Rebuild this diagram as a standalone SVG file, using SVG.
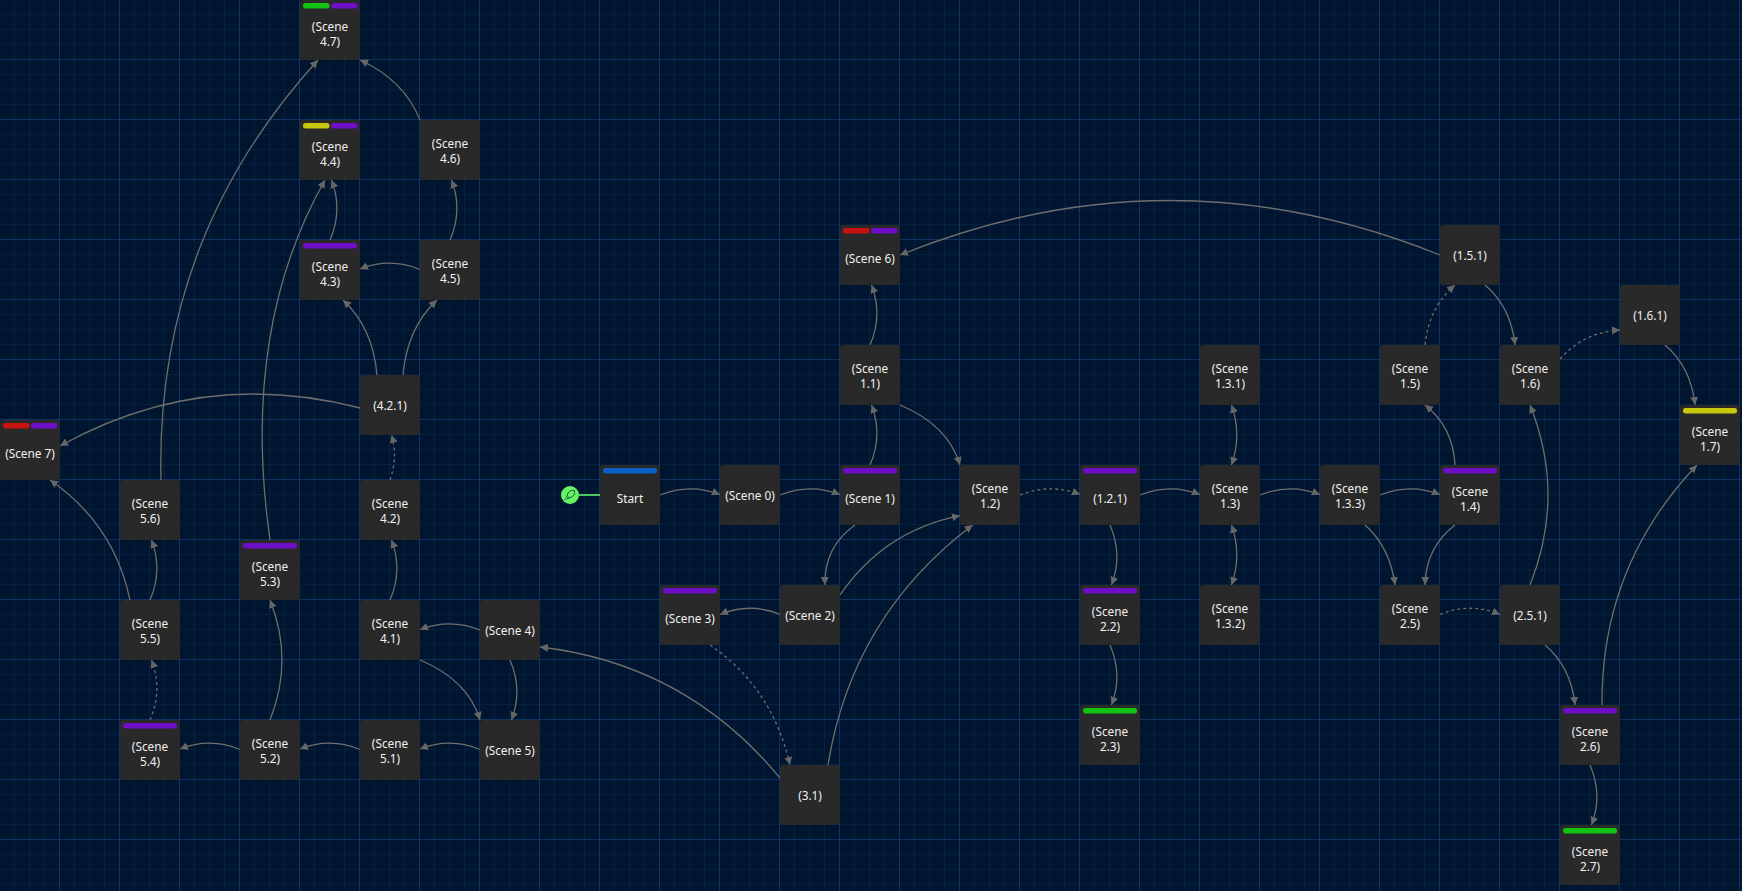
<svg xmlns="http://www.w3.org/2000/svg" width="1742" height="891" viewBox="0 0 1742 891">
<style>
.n{fill:#292929}
.t{font-family:"Noto Sans","Liberation Sans",sans-serif;font-size:11.8px;fill:#f0f0f0;text-anchor:middle}
.e{fill:none;stroke:#6e6e6e;stroke-width:1.3;marker-end:url(#a)}
.s{marker-start:url(#a)}
.d{stroke-dasharray:3 3}
.b{fill:#0a5fc4}.p{fill:#6e0fc7}.r{fill:#c81212}.g{fill:#12c412}.y{fill:#c8c80a}
</style>
<defs>
<marker id="a" markerUnits="userSpaceOnUse" markerWidth="9" markerHeight="9" refX="8" refY="4" orient="auto-start-reverse"><path d="M0 0L8 4L0 8z" fill="#666"/></marker>
<pattern id="grid" width="60" height="60" patternUnits="userSpaceOnUse">
<rect x="14" width="1" height="60" fill="#06203e"/><rect x="29" width="1" height="60" fill="#06203e"/><rect x="44" width="1" height="60" fill="#06203e"/>
<rect y="14" width="60" height="1" fill="#06203e"/><rect y="29" width="60" height="1" fill="#06203e"/><rect y="44" width="60" height="1" fill="#06203e"/>
<rect x="59" width="1" height="60" fill="#11335f"/><rect y="59" width="60" height="1" fill="#11335f"/>
</pattern>
</defs>
<rect width="1742" height="891" fill="#001630"/>
<rect width="1742" height="891" fill="url(#grid)"/>
<g id="connectors">
<path class="e" d="M660 495Q690 483 720 494.5"/>
<path class="e" d="M780 495Q810 483 840 494.5"/>
<path class="e" d="M870 465Q883 435 871.5 405"/>
<path class="e" d="M870 345Q883 315 871.5 285"/>
<path class="e" d="M900 405Q948 425 960 465"/>
<path class="e" d="M855 525Q824 547 825 585"/>
<path class="e" d="M780 614.5Q750 602 720 614.5"/>
<path class="e" d="M840 595Q884 531 960 515.7"/>
<path class="e" d="M828 765Q852 616 972.7 525"/>
<path class="e d" d="M710 645Q772 687 790 765"/>
<path class="e" d="M780 778Q686 664 540 647"/>
<path class="e" d="M480 630Q450 618 420 629.5"/>
<path class="e" d="M510 660Q523 690 511.5 720"/>
<path class="e" d="M420 660Q468 680 480 720"/>
<path class="e" d="M480 749.5Q450 737 420 749"/>
<path class="e" d="M360 749.5Q330 737 300 749"/>
<path class="e" d="M240 749.5Q210 737 180 749"/>
<path class="e" d="M270 720Q294 660 270 600"/>
<path class="e d" d="M150 720Q163 690 151.5 660"/>
<path class="e" d="M150 600Q163 570 151.5 540"/>
<path class="e" d="M130 600Q114 524 50 480"/>
<path class="e" d="M161 480Q155 239 318 60"/>
<path class="e" d="M270 540Q240 330 325 180"/>
<path class="e" d="M330 240Q343 210 331.5 180"/>
<path class="e" d="M450 240Q463 210 451.5 180"/>
<path class="e" d="M420 120Q404 80 360 60"/>
<path class="e" d="M420 269.5Q390 257 360 269"/>
<path class="e" d="M377 375Q373 328 343 300"/>
<path class="e" d="M403 375Q407 328 437 300"/>
<path class="e" d="M360 408Q202 367 60 446"/>
<path class="e d" d="M390 480Q398 457 391.5 435"/>
<path class="e" d="M390 600Q403 570 391.5 540"/>
<path class="e d" d="M1020 495Q1050 483 1080 494.5"/>
<path class="e" d="M1140 495Q1170 483 1200 494.5"/>
<path class="e" d="M1260 495Q1290 483 1320 494.5"/>
<path class="e" d="M1380 495Q1410 483 1440 494.5"/>
<path class="e" d="M1110 525Q1123 555 1111.5 585"/>
<path class="e" d="M1110 645Q1123 675 1111.5 705"/>
<path class="e s" d="M1231.5 525Q1242 555 1231.5 585"/>
<path class="e s" d="M1231.5 465Q1242 435 1231.5 405"/>
<path class="e" d="M1365 525Q1390 547 1395 585"/>
<path class="e" d="M1455 525Q1426 547 1425 585"/>
<path class="e d" d="M1440 614.5Q1470 602 1500 614.5"/>
<path class="e" d="M1530 585Q1566 495 1530 405"/>
<path class="e" d="M1545 645Q1571 667 1575 705"/>
<path class="e" d="M1590 765Q1603 795 1591.5 825"/>
<path class="e" d="M1602 705Q1601 566 1697 465"/>
<path class="e" d="M1455 465Q1453 427 1425 405"/>
<path class="e d" d="M1425 345Q1429 307 1455 285"/>
<path class="e" d="M1485 285Q1511 307 1515 345"/>
<path class="e d" d="M1560 359Q1584 332 1620 330"/>
<path class="e" d="M1665 345Q1691 367 1695 405"/>
<path class="e" d="M1440 255Q1170 146 900 255"/>
</g>
<g id="entry">
<line x1="579" y1="495" x2="600" y2="495" stroke="#4cc45f" stroke-width="2"/>
<circle cx="570" cy="495" r="9" fill="#66f266"/>
<g fill="none" stroke="#1f5a38" stroke-width="1"><path d="M566.5 497.5L568 493C569.5 491 572 490 574.5 490.5C575 493 574 495.5 572 497L567.5 498.5Z"/><path d="M565.5 498.5L564.5 500M569 496.5L566.5 499.5"/></g>
</g>
<g id="start"><rect class="n" x="600" y="465" width="60" height="60" rx="3"/><rect class="b" x="603" y="468" width="54" height="5.5" rx="2.5"/><text class="t" x="630" y="503">Start</text></g>
<g id="scene-0"><rect class="n" x="720" y="465" width="60" height="60" rx="3"/><text class="t" x="750" y="500">(Scene 0)</text></g>
<g id="scene-1"><rect class="n" x="840" y="465" width="60" height="60" rx="3"/><rect class="p" x="843" y="468" width="54" height="5.5" rx="2.5"/><text class="t" x="870" y="503">(Scene 1)</text></g>
<g id="scene-1-1"><rect class="n" x="840" y="345" width="60" height="60" rx="3"/><text class="t" x="870" y="372.5">(Scene</text><text class="t" x="870" y="388">1.1)</text></g>
<g id="scene-6"><rect class="n" x="840" y="225" width="60" height="60" rx="3"/><rect class="r" x="843" y="228" width="26.5" height="5.5" rx="2.5"/><rect class="p" x="871" y="228" width="26.5" height="5.5" rx="2.5"/><text class="t" x="870" y="263">(Scene 6)</text></g>
<g id="scene-2"><rect class="n" x="780" y="585" width="60" height="60" rx="3"/><text class="t" x="810" y="620">(Scene 2)</text></g>
<g id="scene-3"><rect class="n" x="660" y="585" width="60" height="60" rx="3"/><rect class="p" x="663" y="588" width="54" height="5.5" rx="2.5"/><text class="t" x="690" y="623">(Scene 3)</text></g>
<g id="n-3-1"><rect class="n" x="780" y="765" width="60" height="60" rx="3"/><text class="t" x="810" y="800">(3.1)</text></g>
<g id="scene-4"><rect class="n" x="480" y="600" width="60" height="60" rx="3"/><text class="t" x="510" y="635">(Scene 4)</text></g>
<g id="scene-5"><rect class="n" x="480" y="720" width="60" height="60" rx="3"/><text class="t" x="510" y="755">(Scene 5)</text></g>
<g id="scene-4-1"><rect class="n" x="360" y="600" width="60" height="60" rx="3"/><text class="t" x="390" y="627.5">(Scene</text><text class="t" x="390" y="643">4.1)</text></g>
<g id="scene-5-1"><rect class="n" x="360" y="720" width="60" height="60" rx="3"/><text class="t" x="390" y="747.5">(Scene</text><text class="t" x="390" y="763">5.1)</text></g>
<g id="scene-5-2"><rect class="n" x="240" y="720" width="60" height="60" rx="3"/><text class="t" x="270" y="747.5">(Scene</text><text class="t" x="270" y="763">5.2)</text></g>
<g id="scene-5-3"><rect class="n" x="240" y="540" width="60" height="60" rx="3"/><rect class="p" x="243" y="543" width="54" height="5.5" rx="2.5"/><text class="t" x="270" y="570.5">(Scene</text><text class="t" x="270" y="586">5.3)</text></g>
<g id="scene-5-4"><rect class="n" x="120" y="720" width="60" height="60" rx="3"/><rect class="p" x="123" y="723" width="54" height="5.5" rx="2.5"/><text class="t" x="150" y="750.5">(Scene</text><text class="t" x="150" y="766">5.4)</text></g>
<g id="scene-5-5"><rect class="n" x="120" y="600" width="60" height="60" rx="3"/><text class="t" x="150" y="627.5">(Scene</text><text class="t" x="150" y="643">5.5)</text></g>
<g id="scene-5-6"><rect class="n" x="120" y="480" width="60" height="60" rx="3"/><text class="t" x="150" y="507.5">(Scene</text><text class="t" x="150" y="523">5.6)</text></g>
<g id="scene-7"><rect class="n" x="0" y="420" width="60" height="60" rx="3"/><rect class="r" x="3" y="423" width="26.5" height="5.5" rx="2.5"/><rect class="p" x="31" y="423" width="26.5" height="5.5" rx="2.5"/><text class="t" x="30" y="458">(Scene 7)</text></g>
<g id="scene-4-2"><rect class="n" x="360" y="480" width="60" height="60" rx="3"/><text class="t" x="390" y="507.5">(Scene</text><text class="t" x="390" y="523">4.2)</text></g>
<g id="n-4-2-1"><rect class="n" x="360" y="375" width="60" height="60" rx="3"/><text class="t" x="390" y="410">(4.2.1)</text></g>
<g id="scene-4-3"><rect class="n" x="300" y="240" width="60" height="60" rx="3"/><rect class="p" x="303" y="243" width="54" height="5.5" rx="2.5"/><text class="t" x="330" y="270.5">(Scene</text><text class="t" x="330" y="286">4.3)</text></g>
<g id="scene-4-5"><rect class="n" x="420" y="240" width="60" height="60" rx="3"/><text class="t" x="450" y="267.5">(Scene</text><text class="t" x="450" y="283">4.5)</text></g>
<g id="scene-4-4"><rect class="n" x="300" y="120" width="60" height="60" rx="3"/><rect class="y" x="303" y="123" width="26.5" height="5.5" rx="2.5"/><rect class="p" x="331" y="123" width="26.5" height="5.5" rx="2.5"/><text class="t" x="330" y="150.5">(Scene</text><text class="t" x="330" y="166">4.4)</text></g>
<g id="scene-4-6"><rect class="n" x="420" y="120" width="60" height="60" rx="3"/><text class="t" x="450" y="147.5">(Scene</text><text class="t" x="450" y="163">4.6)</text></g>
<g id="scene-4-7"><rect class="n" x="300" y="0" width="60" height="60" rx="3"/><rect class="g" x="303" y="3" width="26.5" height="5.5" rx="2.5"/><rect class="p" x="331" y="3" width="26.5" height="5.5" rx="2.5"/><text class="t" x="330" y="30.5">(Scene</text><text class="t" x="330" y="46">4.7)</text></g>
<g id="scene-1-2"><rect class="n" x="960" y="465" width="60" height="60" rx="3"/><text class="t" x="990" y="492.5">(Scene</text><text class="t" x="990" y="508">1.2)</text></g>
<g id="n-1-2-1"><rect class="n" x="1080" y="465" width="60" height="60" rx="3"/><rect class="p" x="1083" y="468" width="54" height="5.5" rx="2.5"/><text class="t" x="1110" y="503">(1.2.1)</text></g>
<g id="scene-2-2"><rect class="n" x="1080" y="585" width="60" height="60" rx="3"/><rect class="p" x="1083" y="588" width="54" height="5.5" rx="2.5"/><text class="t" x="1110" y="615.5">(Scene</text><text class="t" x="1110" y="631">2.2)</text></g>
<g id="scene-2-3"><rect class="n" x="1080" y="705" width="60" height="60" rx="3"/><rect class="g" x="1083" y="708" width="54" height="5.5" rx="2.5"/><text class="t" x="1110" y="735.5">(Scene</text><text class="t" x="1110" y="751">2.3)</text></g>
<g id="scene-1-3"><rect class="n" x="1200" y="465" width="60" height="60" rx="3"/><text class="t" x="1230" y="492.5">(Scene</text><text class="t" x="1230" y="508">1.3)</text></g>
<g id="scene-1-3-1"><rect class="n" x="1200" y="345" width="60" height="60" rx="3"/><text class="t" x="1230" y="372.5">(Scene</text><text class="t" x="1230" y="388">1.3.1)</text></g>
<g id="scene-1-3-2"><rect class="n" x="1200" y="585" width="60" height="60" rx="3"/><text class="t" x="1230" y="612.5">(Scene</text><text class="t" x="1230" y="628">1.3.2)</text></g>
<g id="scene-1-3-3"><rect class="n" x="1320" y="465" width="60" height="60" rx="3"/><text class="t" x="1350" y="492.5">(Scene</text><text class="t" x="1350" y="508">1.3.3)</text></g>
<g id="scene-1-4"><rect class="n" x="1440" y="465" width="60" height="60" rx="3"/><rect class="p" x="1443" y="468" width="54" height="5.5" rx="2.5"/><text class="t" x="1470" y="495.5">(Scene</text><text class="t" x="1470" y="511">1.4)</text></g>
<g id="scene-1-5"><rect class="n" x="1380" y="345" width="60" height="60" rx="3"/><text class="t" x="1410" y="372.5">(Scene</text><text class="t" x="1410" y="388">1.5)</text></g>
<g id="n-1-5-1"><rect class="n" x="1440" y="225" width="60" height="60" rx="3"/><text class="t" x="1470" y="260">(1.5.1)</text></g>
<g id="scene-1-6"><rect class="n" x="1500" y="345" width="60" height="60" rx="3"/><text class="t" x="1530" y="372.5">(Scene</text><text class="t" x="1530" y="388">1.6)</text></g>
<g id="n-1-6-1"><rect class="n" x="1620" y="285" width="60" height="60" rx="3"/><text class="t" x="1650" y="320">(1.6.1)</text></g>
<g id="scene-1-7"><rect class="n" x="1680" y="405" width="60" height="60" rx="3"/><rect class="y" x="1683" y="408" width="54" height="5.5" rx="2.5"/><text class="t" x="1710" y="435.5">(Scene</text><text class="t" x="1710" y="451">1.7)</text></g>
<g id="scene-2-5"><rect class="n" x="1380" y="585" width="60" height="60" rx="3"/><text class="t" x="1410" y="612.5">(Scene</text><text class="t" x="1410" y="628">2.5)</text></g>
<g id="n-2-5-1"><rect class="n" x="1500" y="585" width="60" height="60" rx="3"/><text class="t" x="1530" y="620">(2.5.1)</text></g>
<g id="scene-2-6"><rect class="n" x="1560" y="705" width="60" height="60" rx="3"/><rect class="p" x="1563" y="708" width="54" height="5.5" rx="2.5"/><text class="t" x="1590" y="735.5">(Scene</text><text class="t" x="1590" y="751">2.6)</text></g>
<g id="scene-2-7"><rect class="n" x="1560" y="825" width="60" height="60" rx="3"/><rect class="g" x="1563" y="828" width="54" height="5.5" rx="2.5"/><text class="t" x="1590" y="855.5">(Scene</text><text class="t" x="1590" y="871">2.7)</text></g>
</svg>
